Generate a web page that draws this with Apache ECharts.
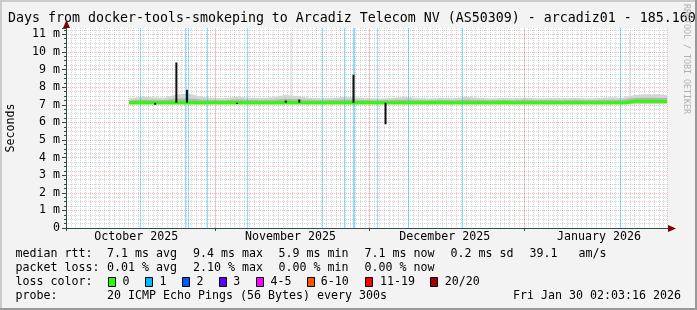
<!DOCTYPE html>
<html><head><meta charset="utf-8">
<script src="https://cdn.jsdelivr.net/npm/echarts@6/dist/echarts.min.js"></script>
<style>html,body{margin:0;padding:0;background:#f3f3f3;}#c{width:697px;height:310px;}</style>
</head><body><div id="c"></div>
<script>
// ---------- data ----------
const titleText = 'Days from docker-tools-smokeping to Arcadiz Telecom NV (AS50309) - arcadiz01 - 185.160';
const yAxisName = 'Seconds';
const yTickLabels = ['0','1 m','2 m','3 m','4 m','5 m','6 m','7 m','8 m','9 m','10 m','11 m'];
const yMin = 0, yMax = 11.36;
// x axis in days from left edge of the graph
const xMin = 0, xMax = 124.7;
const monthLabels = ['October 2025','November 2025','December 2025','January 2026'];
const monthLabelDays = [14.6, 46.6, 78.6, 110.6];
const majorGridDays = [31, 63, 95];
const majorTickDays = [0, 31, 63, 95];

// median rtt (ms)
const medianDays = [13.1,16,19,22,25,28,31,34,37,40,43,46,49,52,55,58,61,64,67,70,73,76,79,82,85,88,91,94,97,100,103,106,109,112,115,116.3,116.6,118,121,124.7];
const medianVals = [7.12,7.13,7.11,7.12,7.13,7.12,7.12,7.13,7.12,7.11,7.12,7.13,7.12,7.12,7.11,7.12,7.13,7.12,7.11,7.12,7.12,7.13,7.12,7.11,7.12,7.12,7.13,7.12,7.12,7.11,7.12,7.12,7.11,7.12,7.12,7.12,7.2,7.2,7.2,7.19];

// sharp excursions of the median
const spikeDays  = [18.5, 22.9, 25.1, 35.5, 45.6, 48.4, 59.65, 66.3];
const spikeBases = [7.12, 7.12, 7.12, 7.12, 7.12, 7.12, 7.12, 7.12];
const spikeTops  = [7.0, 9.4, 7.85, 7.04, 7.24, 7.3, 8.7, 5.9];

// smoke (ping spread) bands
const smokeDays = [13.1,15.5,18,20.5,23,25.5,28,30.5,33,35.5,38,40.5,43,45.5,48,50.5,53,55.5,58,60.5,63,65.5,68,70.5,73,75.5,78,80.5,83,85.5,88,90.5,93,95.5,98,100.5,103,105.5,108,110.5,113,115.5,118,120.5,123,124.7];
const smokeLow = [7.0,7.0,7.0,7.0,7.0,7.0,7.0,7.0,7.0,7.0,7.0,7.0,7.0,7.0,7.0,7.0,7.0,7.0,7.0,7.0,7.0,7.0,7.0,7.0,7.0,7.0,7.0,7.0,7.0,7.0,7.0,7.0,7.0,7.0,7.0,7.0,7.0,7.0,7.0,7.0,7.0,7.0,7.03,7.03,7.03,7.03];
const smokeInnerLow = [7.05,7.05,7.05,7.05,7.05,7.05,7.05,7.05,7.05,7.05,7.05,7.05,7.05,7.05,7.05,7.05,7.05,7.05,7.05,7.05,7.05,7.05,7.05,7.05,7.05,7.05,7.05,7.05,7.05,7.05,7.05,7.05,7.05,7.05,7.05,7.05,7.05,7.05,7.05,7.05,7.05,7.05,7.08,7.08,7.08,7.08];
const smokeInnerHigh = [7.24,7.3,7.28,7.27,7.36,7.36,7.3,7.27,7.26,7.31,7.28,7.27,7.28,7.34,7.32,7.28,7.26,7.28,7.3,7.28,7.26,7.26,7.28,7.3,7.27,7.26,7.28,7.26,7.3,7.28,7.26,7.27,7.26,7.28,7.26,7.27,7.26,7.28,7.26,7.27,7.28,7.28,7.38,7.4,7.39,7.38];
const smokeHigh = [7.36,7.46,7.42,7.4,7.6,7.64,7.45,7.4,7.37,7.47,7.4,7.38,7.42,7.56,7.5,7.4,7.37,7.4,7.45,7.41,7.37,7.36,7.4,7.45,7.39,7.36,7.4,7.37,7.45,7.4,7.36,7.39,7.37,7.4,7.36,7.39,7.37,7.4,7.36,7.39,7.42,7.4,7.56,7.6,7.59,7.56];
const smokeSpikeDays = [46.7, 117.0];
const smokeSpikeBases = [7.4, 7.5];
const smokeSpikeTops = [11.1, 11.1];

// intervals with packet loss (1 of 20)
const lossDays = [15.5, 24.7, 25.4, 29.4, 37.7, 53.1, 57.7, 59.6, 59.8, 64.5, 71.0, 82.2, 115.1];

// legend texts
const rttLabel = 'median rtt:';
const rttStats = ['7.1 ms avg','9.4 ms max','5.9 ms min','7.1 ms now','0.2 ms sd','39.1','am/s'];
const lossLabel = 'packet loss:';
const lossStats = ['0.01 % avg','2.10 % max','0.00 % min','0.00 % now'];
const lossColorLabel = 'loss color:';
const lossColorNames = ['0','1','2','3','4-5','6-10','11-19','20/20'];
const probeLabel = 'probe:';
const probeText = '20 ICMP Echo Pings (56 Bytes) every 300s';
const dateText = 'Fri Jan 30 02:03:16 2026';

// ---------- styles / layout ----------
const MONO = 'DejaVu Sans Mono';
const FS = 11.63;
const lossColors = ['#26ff00','#00b8ff','#0059ff','#5e00ff','#ff00ff','#ff5500','#ff0000','#a00000'];
const statX = [107, 193, 278.5, 364.5, 450.5, 529.5, 578.5];
const boxX = [108.5, 145.5, 182.5, 219.5, 256.5, 307.5, 365.5, 430.5];
const boxLabelX = [122.6, 159.5, 196.4, 233.3, 270.6, 320.8, 379.9, 444.8];
const rowY = [254, 268, 282, 296];
const AXIS = '#2c4d43';
const GRID = 'rgba(120,120,120,0.3)';
const MGRID = 'rgba(255,0,0,0.3)';

const zip = (a, b) => a.map((v, i) => [v, b[i]]);
function segs(days, bases, tops) {
  const out = [];
  days.forEach((d, i) => { out.push([d, bases[i]], [d, tops[i]], [d, null]); });
  return out;
}

// smoke rows: [day, low, innerLow, innerHigh, high]
const smokeRows = smokeDays.map((d, i) => [d, smokeLow[i], smokeInnerLow[i], smokeInnerHigh[i], smokeHigh[i]]);
function bandPoints(api, loDim, hiDim) {
  const pts = [];
  for (let i = 0; i < smokeRows.length; i++) pts.push(api.coord([smokeRows[i][0], smokeRows[i][hiDim]]));
  for (let i = smokeRows.length - 1; i >= 0; i--) pts.push(api.coord([smokeRows[i][0], smokeRows[i][loDim]]));
  return pts;
}
function renderSmoke(params, api) {
  if (params.dataIndex !== 0) return null;
  return {
    type: 'group',
    children: [
      {type: 'polygon', shape: {points: bandPoints(api, 1, 4)}, style: {fill: '#d4d4d4'}},
      {type: 'polygon', shape: {points: bandPoints(api, 2, 3)}, style: {fill: '#b4b4b4'}}
    ]
  };
}

const chart = echarts.init(document.getElementById('c'), null, {renderer: 'canvas', width: 697, height: 310});

chart.setOption({
  animation: false,
  backgroundColor: '#f3f3f3',
  grid: {left: 66, top: 28, width: 601, height: 200, backgroundColor: '#fff', show: true, borderWidth: 0,
    containLabel: false, outerBoundsMode: 'none'},
  xAxis: [{
    type: 'value', min: xMin, max: xMax, interval: 1, position: 'bottom',
    axisLine: {show: true, lineStyle: {color: AXIS, width: 1}},
    axisTick: {show: false}, axisLabel: {show: false},
    splitLine: {show: true, lineStyle: {color: GRID, type: [1, 1], width: 1}}
  }, {
    type: 'value', min: xMin, max: xMax, position: 'bottom',
    axisLine: {show: false},
    axisTick: {show: true, customValues: majorTickDays, length: 3, lineStyle: {color: AXIS}},
    axisLabel: {show: true, customValues: monthLabelDays, margin: 3,
      formatter: (v) => { const i = monthLabelDays.indexOf(v); return i >= 0 ? monthLabels[i] : ''; },
      fontFamily: MONO, fontSize: FS, color: '#000'},
    splitLine: {show: false}
  }],
  yAxis: {
    type: 'value', min: yMin, max: yMax, interval: 1,
    name: yAxisName, nameLocation: 'middle', nameRotate: 90, nameGap: 49,
    nameTextStyle: {fontFamily: MONO, fontSize: FS, color: '#000'},
    axisLine: {show: true, lineStyle: {color: AXIS, width: 1}},
    axisTick: {show: true, length: 4, lineStyle: {color: AXIS}},
    minorTick: {show: true, splitNumber: 4, length: 2, lineStyle: {color: AXIS}},
    axisLabel: {margin: 6, fontFamily: MONO, fontSize: FS, color: '#000',
      formatter: (v) => (Number.isInteger(v) && yTickLabels[v] !== undefined) ? yTickLabels[v] : ''},
    splitLine: {show: true, showMaxLine: false, lineStyle: {color: MGRID, type: [1, 1], width: 1}},
    minorSplitLine: {show: true, lineStyle: {color: GRID, type: [1, 1], width: 1}}
  },
  series: [
    {
      name: 'majorgrid', type: 'line', data: [], silent: true, z: 1,
      markLine: {silent: true, symbol: ['none', 'none'], label: {show: false}, animation: false,
        lineStyle: {color: MGRID, type: [1, 1], width: 1},
        data: majorGridDays.map(d => ({xAxis: d}))}
    },
    {
      name: 'loss', type: 'line', data: [], silent: true, z: 2,
      markLine: {silent: true, symbol: ['none', 'none'], label: {show: false}, animation: false,
        lineStyle: {color: 'rgba(0,184,255,0.45)', type: 'solid', width: 1},
        data: lossDays.map(d => ({xAxis: d}))}
    },
    {
      name: 'smoke', type: 'custom', data: smokeRows, silent: true, z: 3,
      encode: {x: 0, y: [1, 2, 3, 4]}, renderItem: renderSmoke
    },
    {
      name: 'smokeSpikes', type: 'line', data: segs(smokeSpikeDays, smokeSpikeBases, smokeSpikeTops),
      symbol: 'none', silent: true, connectNulls: false, z: 3,
      lineStyle: {color: '#d4d4d4', width: 1}
    },
    {
      name: 'median', type: 'line', data: zip(medianDays, medianVals), symbol: 'none', silent: true, z: 5,
      lineStyle: {color: '#26ff00', width: 3}
    },
    {
      name: 'spikes', type: 'line', data: segs(spikeDays, spikeBases, spikeTops), symbol: 'none',
      silent: true, connectNulls: false, z: 6,
      lineStyle: {color: '#111', width: 2}
    }
  ]
});

// ---------- decorations: texts, frame, arrows ----------
const txt = (text, x, y, extra) => ({type: 'text', x, y, silent: true, z: 20,
  style: Object.assign({text, fontFamily: MONO, fontSize: FS, fill: '#000', align: 'left', verticalAlign: 'middle'}, extra || {})});

const g = [];
g.push(txt(titleText, 8, 19, {fontSize: 13.29}));
g.push({type: 'text', x: 686.5, y: 4, rotation: -Math.PI / 2, silent: true, z: 20,
  style: {text: 'RRDTOOL / TOBI OETIKER', fontFamily: MONO, fontSize: 8.3, fill: '#b0b0b0', align: 'left', verticalAlign: 'middle'}});
g.push(txt(rttLabel, 15.5, rowY[0]));
rttStats.forEach((s, i) => g.push(txt(s, statX[i], rowY[0])));
g.push(txt(lossLabel, 15.5, rowY[1]));
lossStats.forEach((s, i) => g.push(txt(s, statX[i], rowY[1])));
g.push(txt(lossColorLabel, 15.5, rowY[2]));
lossColorNames.forEach((s, i) => {
  g.push({type: 'rect', silent: true, z: 20, shape: {x: boxX[i], y: rowY[2] - 4.5, width: 7, height: 9},
    style: {fill: lossColors[i], stroke: '#000', lineWidth: 1}});
  g.push(txt(s, boxLabelX[i], rowY[2]));
});
g.push(txt(probeLabel, 15.5, rowY[3]));
g.push(txt(probeText, statX[0], rowY[3]));
g.push(txt(dateText, 681, rowY[3], {align: 'right'}));

// arrows at the axis ends
const pTop = chart.convertToPixel({gridIndex: 0}, [xMin, yMax]);
const pRight = chart.convertToPixel({gridIndex: 0}, [xMax, yMin]);
const ax = Math.round(pTop[0]) + 0.5, ay = Math.round(pTop[1]);
const bx = Math.round(pRight[0]), by = Math.round(pRight[1]) + 0.5;
g.push({type: 'polygon', silent: true, z: 21, shape: {points: [[ax, ay - 8], [ax - 3.5, ay], [ax + 3.5, ay]]}, style: {fill: '#7f0000'}});
g.push({type: 'line', silent: true, z: 21, shape: {x1: bx - 1, y1: by, x2: bx + 2, y2: by}, style: {stroke: AXIS, lineWidth: 1}});
g.push({type: 'polygon', silent: true, z: 21, shape: {points: [[bx + 9, by], [bx + 1, by - 3.5], [bx + 1, by + 3.5]]}, style: {fill: '#7f0000'}});

// 3D frame
g.push({type: 'rect', silent: true, z: 30, shape: {x: 0, y: 0, width: 697, height: 2}, style: {fill: '#cbcbcb'}});
g.push({type: 'rect', silent: true, z: 30, shape: {x: 0, y: 0, width: 2, height: 310}, style: {fill: '#cbcbcb'}});
g.push({type: 'rect', silent: true, z: 30, shape: {x: 695, y: 0, width: 2, height: 310}, style: {fill: '#999999'}});
g.push({type: 'rect', silent: true, z: 30, shape: {x: 0, y: 308, width: 697, height: 2}, style: {fill: '#999999'}});

chart.setOption({graphic: g});
</script>
</body></html>
